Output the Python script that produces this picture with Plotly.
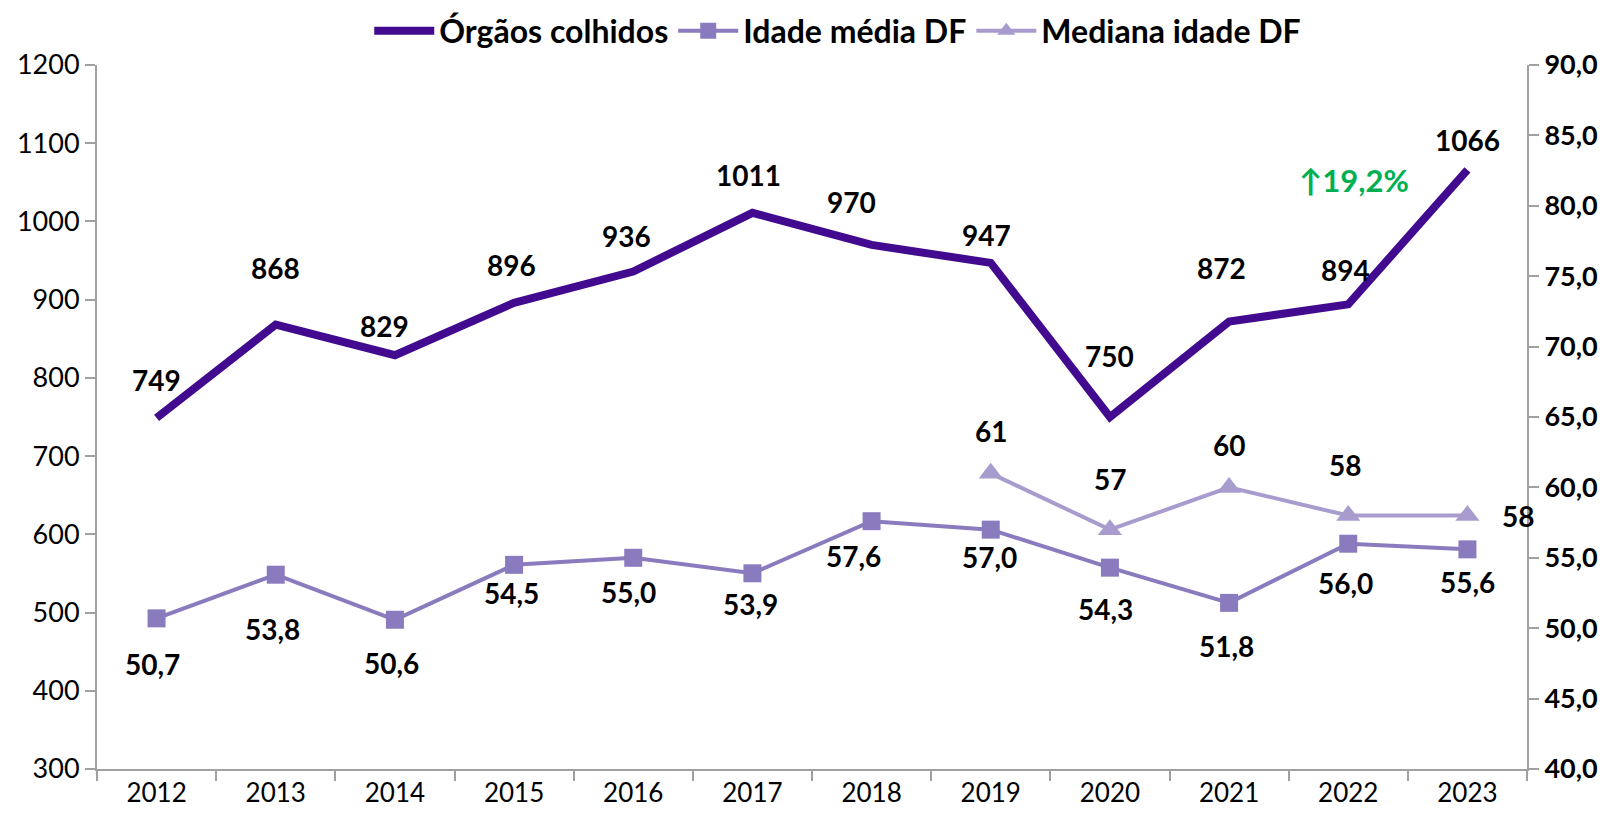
import plotly.graph_objects as go

years = ["2012","2013","2014","2015","2016","2017","2018","2019","2020","2021","2022","2023"]
orgaos = [749, 868, 829, 896, 936, 1011, 970, 947, 750, 872, 894, 1066]
idade_media = [50.7, 53.8, 50.6, 54.5, 55.0, 53.9, 57.6, 57.0, 54.3, 51.8, 56.0, 55.6]
mediana = [None, None, None, None, None, None, None, 61, 57, 60, 58, 58]
left_ticks = [300, 400, 500, 600, 700, 800, 900, 1000, 1100, 1200]
right_ticks = [40, 45, 50, 55, 60, 65, 70, 75, 80, 85, 90]

# label offsets (pixels) — styling only
org_dy = [38, 57, 29, 38, 36, 38, 43, 28, 61, 54, 34, 30]
org_dx = [0, 0, -10, -3, -7, -4, -20, -4, 0, -8, -3, 0]
med_dy = [-46, -54, -43, -28, -34, -31, -35, -27, -41, -43, -39, -33]
med_dx = [-4, -3, -3, -3, -5, -2, -18, -1, -4, -3, -3, 0]
mdn_dy = [0, 0, 0, 0, 0, 0, 0, 42, 51, 42, 51, 0]
mdn_dx = [0, 0, 0, 0, 0, 0, 0, 0, 0, 0, -3, 51]

FONT = "Lato"
LBL = dict(family=FONT, size=28, color="black", weight="bold")
xpos = list(range(len(years)))

def fmt(v, d=1):
    return f"{v:.{d}f}".replace(".", ",")

fig = go.Figure()
fig.add_trace(go.Scatter(
    x=xpos, y=orgaos, name="Órgãos colhidos", mode="lines",
    line=dict(color="#420A8E", width=8),
))
fig.add_trace(go.Scatter(
    x=xpos, y=idade_media, name="Idade média DF", mode="lines+markers",
    line=dict(color="#8A7BBE", width=4),
    marker=dict(symbol="square", size=18, color="#8A7BBE"),
    yaxis="y2",
))
fig.add_trace(go.Scatter(
    x=xpos, y=mediana, name="Mediana idade DF", mode="lines+markers",
    line=dict(color="#A89CCE", width=4),
    marker=dict(symbol="triangle-up", size=21, color="#A89CCE"),
    yaxis="y2", connectgaps=False,
))

for i, v in enumerate(orgaos):
    fig.add_annotation(x=xpos[i], y=v, xref="x", yref="y", text=str(v), showarrow=False,
                       xshift=org_dx[i], yshift=org_dy[i], font=LBL)
for i, v in enumerate(idade_media):
    fig.add_annotation(x=xpos[i], y=v, xref="x", yref="y2", text=fmt(v), showarrow=False,
                       xshift=med_dx[i], yshift=med_dy[i], font=LBL)
for i, v in enumerate(mediana):
    if v is None:
        continue
    fig.add_annotation(x=xpos[i], y=v, xref="x", yref="y2", text=str(v), showarrow=False,
                       xshift=mdn_dx[i], yshift=mdn_dy[i], font=LBL)

fig.add_annotation(
    x=10.05, y=1053, xref="x", yref="y", text="↑19,2%", showarrow=False,
    font=dict(family=FONT, size=31, color="#00B050", weight="bold"),
)

W, H = 1598, 806  # page body has an 8px margin on each side
fig.update_layout(
    width=W, height=H,
    margin=dict(l=89, r=79, t=57, b=45, autoexpand=False),
    plot_bgcolor="white", paper_bgcolor="white",
    font=dict(family=FONT, size=26, color="black"),
    showlegend=True,
    legend=dict(orientation="h", x=0.518, xanchor="center", yref="container",
                y=1 - 23 / H, yanchor="middle",
                font=dict(family=FONT, size=32, color="black", weight="bold"),
                itemwidth=60, tracegroupgap=0, borderwidth=0,
                bgcolor="rgba(0,0,0,0)"),
    xaxis=dict(
        range=[-0.5, 11.5], tickvals=xpos, ticktext=years, ticks="",
        showgrid=False, zeroline=False, showline=True, linecolor="#A0A0A0", linewidth=2,
        tickfont=dict(family=FONT, size=26, color="black"),
        minor=dict(tick0=-0.5, dtick=1, ticks="outside", ticklen=10, tickcolor="#A0A0A0", tickwidth=2),
    ),
    yaxis=dict(
        range=[300, 1200], tickvals=left_ticks, ticks="outside", ticklen=10,
        tickcolor="#A0A0A0", tickwidth=2, showgrid=False, zeroline=False,
        showline=True, linecolor="#A0A0A0", linewidth=2,
        tickfont=dict(family=FONT, size=27, color="black"),
    ),
    yaxis2=dict(
        range=[40, 90], tickvals=right_ticks, ticktext=[fmt(v) for v in right_ticks],
        overlaying="y", side="right", ticks="outside", ticklen=10,
        tickcolor="#A0A0A0", tickwidth=2, showgrid=False, zeroline=False,
        showline=True, linecolor="#A0A0A0", linewidth=2,
        tickfont=dict(family=FONT, size=27, color="black", weight="bold"),
    ),
)

fig.write_html("out.html")
